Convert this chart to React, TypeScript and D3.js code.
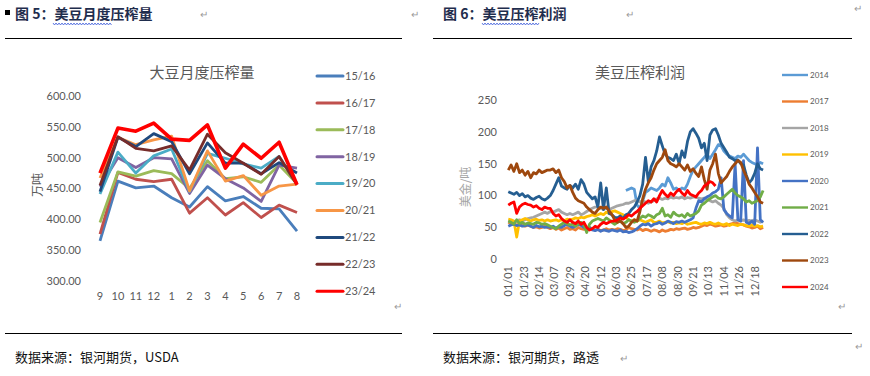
import React from "react";
import * as d3 from "d3";

// ---------- Left chart data: 大豆月度压榨量 ----------
const months = ["9", "10", "11", "12", "1", "2", "3", "4", "5", "6", "7", "8"];
const crushNames = ["15/16", "16/17", "17/18", "18/19", "19/20", "20/21", "21/22", "22/23", "23/24"];
const crushColors = ["#4a7ebb", "#c0504d", "#9bbb59", "#8064a2", "#4bacc6", "#f79646", "#1f497d", "#772c2a", "#ff0000"];
const c1516 = [365, 462, 451, 454, 435, 420, 453, 430, 437, 418, 417, 381];
const c1617 = [376, 476, 465, 461, 465, 410, 435, 407, 427, 403, 423, 411];
const c1718 = [395, 477, 470, 479, 474, 450, 495, 466, 469, 460, 488, 458];
const c1819 = [453, 500, 484, 500, 498, 442, 488, 466, 451, 429, 488, 483];
const c1920 = [441, 509, 475, 503, 514, 445, 507, 499, 490, 483, 502, 458];
const c2021 = [467, 533, 521, 529, 535, 446, 511, 462, 471, 439, 454, 457];
const c2122 = [445, 533, 518, 539, 526, 474, 524, 491, 491, 474, 492, 475];
const c2223 = [455, 534, 515, 511, 519, 480, 538, 508, 491, 473, 502, 456];
const c2324 = [475, 548, 543, 556, 530, 528, 553, 483, 522, 499, 525, 456];
const crushValues = [c1516, c1617, c1718, c1819, c1920, c2021, c2122, c2223, c2324];
const crushTicks = [300, 350, 400, 450, 500, 550, 600];

// ---------- Right chart data: 美豆压榨利润 (every 4th day of year) ----------
const profitNames = ["2014", "2017", "2018", "2019", "2020", "2021", "2022", "2023", "2024"];
const profitColors = ["#5b9bd5", "#ed7d31", "#a5a5a5", "#ffc000", "#4472c4", "#70ad47", "#255e91", "#9e480e", "#ff0000"];
const dateTicks = ["01/01", "01/23", "02/14", "03/07", "03/29", "04/20", "05/12", "06/03", "06/25", "07/17", "08/08", "08/30", "09/21", "10/13", "11/04", "11/26", "12/18"];
const N = null;
const p2014 = [
  N, N, N, N, N, N, N, N,
  N, N, N, N, N, N, N,
  N, N, N, N, N, N, N, N,
  N, N, N, N, N, N, N,
  N, N, N, N, N, N, N, N,
  N, N, N, N, 108, 110, 112, 110,
  85, 80, 92, 105, 108, 112, 110,
  108, 112, 118, 115, 128, 120, 110, 112,
  108, 112, 110, 118, 130, 140, 145, 150,
  155, 160, 165, 158, 165, 172, 180,
  178, 170, 165, 162, 160, 158, 162, 160,
  165, 160, 155, 152, 150, 148, 152, 150,
];
const p2017 = [
  58, 56, 55, 54, 55, 53, 52, 54,
  52, 50, 51, 49, 50, 52, 50,
  48, 50, 47, 49, 46, 48, 50, 47,
  48, 46, 50, 48, 47, 49, 50,
  48, 46, 47, 45, 46, 48, 46, 47,
  46, 48, 47, 45, 46, 50, 48, 47,
  46, 48, 45, 47, 46, 44, 46,
  45, 43, 46, 44, 45, 47, 46, 48,
  47, 48, 49, 47, 48, 50, 49, 50,
  52, 54, 53, 55, 54, 52, 53,
  54, 52, 53, 55, 56, 57, 56, 55,
  54, 52, 51, 49, 50, 52, 48, 50,
];
const p2018 = [
  58, 60, 58, 60, 62, 60, 62, 64,
  65, 66, 68, 70, 72, 74, 72,
  75, 74, 76, 78, 74, 72, 70, 72,
  70, 72, 74, 70, 72, 75, 78,
  80, 82, 82, 80, 78, 80, 78, 80,
  82, 84, 85, 86, 88, 88, 90, 92,
  92, 90, 92, 90, 88, 90, 92,
  95, 96, 94, 96, 95, 98, 96, 97,
  96, 98, 95, 97, 96, 98, 97, 96,
  95, 96, 94, 92, 90, 92, 88,
  85, 80, 70, 65, 62, 60, 62, 60,
  62, 60, 61, 60, 62, 60, 58, 60,
];
const p2019 = [
  63, 62, 60, 35, 60, 62, 64, 62,
  60, 62, 63, 61, 62, 60, 62,
  60, 61, 62, 60, 62, 61, 63, 62,
  63, 65, 64, 66, 65, 67, 68,
  70, 68, 70, 72, 70, 74, 72, 75,
  76, 74, 72, 70, 66, 62, 60, 62,
  60, 62, 60, 58, 60, 62, 58,
  58, 60, 57, 58, 59, 57, 58, 56,
  57, 56, 58, 55, 56, 57, 58, 56,
  55, 57, 56, 58, 56, 55, 57,
  55, 54, 56, 53, 55, 54, 53, 55,
  54, 53, 52, 54, 52, 53, 51, 52,
];
const p2020 = [
  52, 54, 55, 53, 54, 52, 53, 54,
  52, 50, 53, 51, 52, 50, 51,
  50, 52, 49, 51, 50, 53, 55, 52,
  50, 52, 55, 53, 50, 48, 50,
  46, 45, 47, 44, 46, 45, 44, 46,
  45, 44, 46, 43, 44, 42, 43, 45,
  48, 52, 55, 54, 56, 52, 55,
  56, 58, 55, 57, 60, 58, 56, 59,
  58, 60, 58, 60, 62, 65, 80, 92,
  90, 95, 98, 100, 104, 106, 110,
  128, 78, 72, 68, 65, 150, 62, 60,
  155, 58, 56, 60, 55, 175, 62, 58,
];
const p2021 = [
  60, 58, 55, 62, 56, 58, 55, 57,
  56, 55, 58, 57, 55, 56, 54,
  52, 50, 48, 52, 55, 58, 56, 54,
  55, 52, 56, 58, 54, 42, 55,
  60, 62, 64, 62, 60, 65, 62, 58,
  55, 58, 60, 56, 58, 62, 60, 58,
  60, 64, 68, 66, 70, 68, 65,
  70, 72, 80, 68, 70, 66, 74, 70,
  68, 70, 66, 72, 68, 70, 72, 76,
  85, 88, 92, 95, 98, 100, 96,
  95, 98, 102, 106, 110, 104, 100, 98,
  95, 90, 92, 88, 90, 92, 98, 108,
];
const p2022 = [
  106, 104, 102, 105, 100, 103, 98, 100,
  96, 94, 97, 99, 95, 93, 96,
  100, 108, 118, 128, 115, 112, 110, 116,
  112, 118, 110, 125, 118, 105, 100,
  95, 98, 82, 120, 78, 112, 72, 70,
  66, 65, 68, 64, 70, 72, 78, 82,
  90, 100, 118, 160, 122, 145, 155,
  170, 192, 178, 165, 160, 158, 155, 165,
  150, 170, 160, 185, 200, 205, 198, 190,
  175, 182, 155, 195, 203, 205, 195,
  182, 175, 168, 160, 158, 155, 156, 150,
  148, 132, 120, 125, 135, 150, 142, 140,
];
const p2023 = [
  140, 148, 138, 150, 136, 140, 132, 138,
  128, 136, 134, 140, 136, 138, 140,
  140, 142, 136, 140, 128, 122, 112, 116,
  105, 96, 92, 90, 88, 82, 78,
  74, 72, 78, 82, 80, 82, 76, 70,
  62, 58, 60, 56, 50, 52, 58, 62,
  60, 75, 95, 110, 120, 128, 140,
  150, 155, 160, 172, 155, 150, 148, 145,
  150, 145, 140, 148, 138, 142, 135, 130,
  145, 125, 110, 140, 150, 165, 135,
  120, 125, 130, 138, 145, 150, 155, 152,
  140, 130, 118, 112, 105, 98, 90, 88,
];
const p2024 = [
  85, 88, 90, 72, 82, 86, 88, 86,
  85, 82, 84, 80, 78, 82, 80,
  80, 72, 68, 70, 64, 60, 58, 62,
  58, 56, 60, 55, 58, 50, 46,
  48, 52, 50, 55, 58, 56, 58, 60,
  60, 62, 65, 63, 66, 70, 68, 72,
  75, 80, 84, 88, 92, 90, 95,
  90, 100, 108, 102, 98, 104, 100, 106,
  110, 104, 100, 108, 102, 100, 98, 104,
  108, 115, 118, 122, 120, 115, N,
  N, N, N, N, N, N, N, N,
  N, N, N, N, N, N, N, N,
];
const profitValues = [p2014, p2017, p2018, p2019, p2020, p2021, p2022, p2023, p2024];
const profitTicks = [0, 50, 100, 150, 200, 250];

const SANS = "Lato, 'Noto Sans CJK SC', sans-serif";
const CJK = "'Noto Sans CJK SC', sans-serif";

function Wavy({ x0, x1, y }: { x0: number; x1: number; y: number }) {
  const pts: string[] = [];
  let up = true;
  for (let x = x0; x <= x1; x += 1.5) {
    pts.push(`${x},${up ? y - 1 : y + 1}`);
    up = !up;
  }
  return <polyline points={pts.join(" ")} fill="none" stroke="#3b5bdb" strokeWidth={0.8} />;
}

export default function App() {
  // Left chart scales
  const xL = d3.scalePoint<string>().domain(months).range([100, 297]);
  const yL = d3.scaleLinear().domain([300, 600]).range([281, 96]);
  const lineL = d3
    .line<number>()
    .x((_, i) => xL(months[i]) as number)
    .y((d) => yL(d));

  // Right chart scales
  const xR = d3.scaleLinear().domain([0, 365]).range([508.3, 763.8]);
  const yR = d3.scaleLinear().domain([0, 250]).range([259.3, 100]);
  const lineR = d3
    .line<number | null>()
    .defined((d) => d !== null)
    .x((_, i) => xR(i * 4))
    .y((d) => yR(d as number));

  const gray = "#595959";

  return (
    <svg width={870} height={376} style={{ position: "absolute", left: 0, top: 0, background: "#fff" }}>
      <rect width={870} height={376} fill="#fff" />
      {/* Document headings */}
      <rect x={5} y={10} width={5} height={5} fill="#000" />
      <text x={15} y={19} fontFamily={CJK} fontWeight="bold" fontSize={14} fill="#1f2d4d">
        图 5：美豆月度压榨量
      </text>
      <Wavy x0={53} x1={112} y={24} />
      <text x={200} y={18} fontSize={10} fill="#9a9a9a" fontFamily={SANS}>↵</text>
      <text x={411} y={18} fontSize={10} fill="#9a9a9a" fontFamily={SANS}>↵</text>
      <line x1={5} x2={402} y1={38.5} y2={38.5} stroke="#000" strokeWidth={1.2} />

      <text x={443} y={19} fontFamily={CJK} fontWeight="bold" fontSize={14} fill="#1f2d4d">
        图 6：美豆压榨利润
      </text>
      <Wavy x0={482} x1={540} y={24} />
      <text x={626} y={18} fontSize={10} fill="#9a9a9a" fontFamily={SANS}>↵</text>
      <text x={854} y={12} fontSize={10} fill="#9a9a9a" fontFamily={SANS}>↵</text>
      <line x1={433} x2={852} y1={38.5} y2={38.5} stroke="#000" strokeWidth={1.2} />

      {/* ---------- Left chart ---------- */}
      <text x={202} y={78} textAnchor="middle" fontFamily={CJK} fontSize={15} fill={gray}>
        大豆月度压榨量
      </text>
      {crushTicks.map((t) => (
        <text key={t} x={81} y={yL(t)} dy="0.35em" textAnchor="end" fontFamily={SANS} fontSize={11} fill={gray}>
          {t.toFixed(2)}
        </text>
      ))}
      <text
        transform={`translate(38,185) rotate(-90)`}
        textAnchor="middle"
        dy="0.35em"
        fontFamily={CJK}
        fontSize={12}
        fill={gray}
      >
        万吨
      </text>
      {months.map((m) => (
        <text key={m} x={xL(m)} y={296} dy="0.35em" textAnchor="middle" fontFamily={SANS} fontSize={11} fill={gray}>
          {m}
        </text>
      ))}
      {crushValues.map((vals, si) => (
        <path
          key={si}
          d={lineL(vals) || ""}
          fill="none"
          stroke={crushColors[si]}
          strokeWidth={si === 8 ? 3.6 : 2.8}
          strokeLinejoin="round"
        />
      ))}
      {crushNames.map((n, i) => {
        const y = 76 + i * 26.9;
        return (
          <g key={n}>
            <line x1={317} x2={343} y1={y} y2={y} stroke={crushColors[i]} strokeWidth={3} strokeLinecap="round" />
            <text x={345} y={y} dy="0.35em" fontFamily={SANS} fontSize={11} fill={gray}>
              {n}
            </text>
          </g>
        );
      })}
      <text x={394} y={310} fontSize={10} fill="#9a9a9a" fontFamily={SANS}>↵</text>

      {/* ---------- Right chart ---------- */}
      <text x={640} y={78} textAnchor="middle" fontFamily={CJK} fontSize={15} fill={gray}>
        美豆压榨利润
      </text>
      {profitTicks.map((t) => (
        <text key={t} x={497} y={yR(t)} dy="0.35em" textAnchor="end" fontFamily={SANS} fontSize={11} fill={gray}>
          {t}
        </text>
      ))}
      <text
        transform={`translate(466,187) rotate(-90)`}
        textAnchor="middle"
        dy="0.35em"
        fontFamily={CJK}
        fontSize={12}
        fill="#a6a6a6"
      >
        美金/吨
      </text>
      {dateTicks.map((lab, i) => (
        <text
          key={lab}
          transform={`translate(${xR(i * 22)},266) rotate(-90)`}
          textAnchor="end"
          dy="0.35em"
          fontFamily={SANS}
          fontSize={11}
          fill={gray}
        >
          {lab}
        </text>
      ))}
      {profitValues.map((vals, si) => (
        <path
          key={si}
          d={lineR(vals) || ""}
          fill="none"
          stroke={profitColors[si]}
          strokeWidth={2.8}
          strokeLinejoin="round"
        />
      ))}
      {profitNames.map((n, i) => {
        const y = 75 + i * 26.5;
        return (
          <g key={n}>
            <line x1={782} x2={808} y1={y} y2={y} stroke={profitColors[i]} strokeWidth={2.4} />
            <text x={810} y={y} dy="0.35em" fontFamily={SANS} fontSize={8} fill={gray}>
              {n}
            </text>
          </g>
        );
      })}
      <text x={838} y={310} fontSize={10} fill="#9a9a9a" fontFamily={SANS}>↵</text>

      {/* ---------- Sources ---------- */}
      <line x1={5} x2={402} y1={333.5} y2={333.5} stroke="#000" strokeWidth={1.2} />
      <line x1={433} x2={852} y1={333.5} y2={333.5} stroke="#000" strokeWidth={1.2} />
      <text x={15} y={362} fontFamily={CJK} fontSize={13} fill="#111">
        数据来源：银河期货，USDA
      </text>
      <text x={443} y={362} fontFamily={CJK} fontSize={13} fill="#111">
        数据来源：银河期货，路透
      </text>
      <text x={620} y={362} fontSize={10} fill="#9a9a9a" fontFamily={SANS}>↵</text>
      <text x={855} y={350} fontSize={10} fill="#9a9a9a" fontFamily={SANS}>↵</text>
    </svg>
  );
}
